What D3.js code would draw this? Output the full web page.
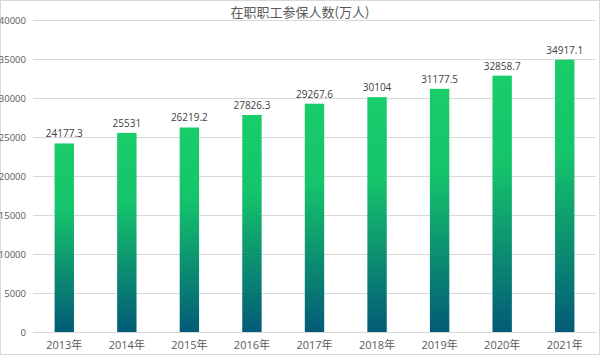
<!DOCTYPE html>
<html><head><meta charset="utf-8">
<script src="https://cdn.jsdelivr.net/npm/d3@7"></script>
<style>body{margin:0;background:#fff}svg{display:block}</style>
</head><body>
<script>
const categories = ["2013年","2014年","2015年","2016年","2017年","2018年","2019年","2020年","2021年"];
const values = [24177.3, 25531, 26219.2, 27826.3, 29267.6, 30104, 31177.5, 32858.7, 34917.1];
const labels = ["24177.3","25531","26219.2","27826.3","29267.6","30104","31177.5","32858.7","34917.1"];
const yTicks = [0,5000,10000,15000,20000,25000,30000,35000,40000];
const title = "在职职工参保人数(万人)";

const W = 600, H = 355;
const svg = d3.select("body").append("svg").attr("width", W).attr("height", H);
svg.append("rect").attr("x",0.5).attr("y",0.5).attr("width",W-1).attr("height",H-1)
  .attr("fill","#fff").attr("stroke","#d9d9d9");

const x = d3.scaleBand().domain(categories).range([33, 596]).paddingInner(0.69).paddingOuter(0.345);
const y = d3.scaleLinear().domain([0, 40000]).range([332, 20]);

const defs = svg.append("defs");
const g = defs.append("linearGradient").attr("id","grad").attr("x1",0).attr("y1",0).attr("x2",0).attr("y2",1);
g.append("stop").attr("offset","0%").attr("stop-color","#19cd6a");
g.append("stop").attr("offset","35%").attr("stop-color","#15c46b");
g.append("stop").attr("offset","100%").attr("stop-color","#035b77");

const yAxis = d3.axisLeft(y).tickValues(yTicks).tickFormat(d3.format("d")).tickSize(-(596-33)).tickPadding(7);
const ya = svg.append("g").attr("transform","translate(33,0)").call(yAxis);
ya.select(".domain").remove();
ya.selectAll(".tick line").attr("stroke","#d9d9d9");
ya.selectAll(".tick text").attr("fill","#595959").attr("font-size","9.5px").attr("font-family","'Open Sans','Liberation Sans',sans-serif");

svg.selectAll("rect.bar").data(values).enter().append("rect").attr("class","bar")
  .attr("x",(d,i)=>x(categories[i])).attr("width",x.bandwidth())
  .attr("y",d=>y(d)).attr("height",d=>y(0)-y(d)).attr("fill","url(#grad)");

svg.selectAll("text.lbl").data(values).enter().append("text").attr("class","lbl")
  .attr("x",(d,i)=>x(categories[i])+x.bandwidth()/2).attr("y",d=>y(d)-6)
  .attr("text-anchor","middle").attr("fill","#404040").attr("font-size","10px")
  .attr("font-family","'Open Sans','Liberation Sans',sans-serif")
  .text((d,i)=>labels[i]);

const xAxis = d3.axisBottom(x).tickSize(0).tickPadding(9);
const xa = svg.append("g").attr("transform","translate(0,332)").call(xAxis);
xa.select(".domain").attr("stroke","#d9d9d9");
xa.selectAll(".tick text").attr("fill","#595959").attr("font-size","11px").attr("font-family","'Open Sans','Noto Sans CJK SC',sans-serif");

svg.append("text").attr("x",300).attr("y",17).attr("text-anchor","middle")
  .attr("fill","#595959").attr("font-size","13px").attr("font-family","'Noto Sans CJK SC',sans-serif")
  .text(title);
</script>
</body></html>
